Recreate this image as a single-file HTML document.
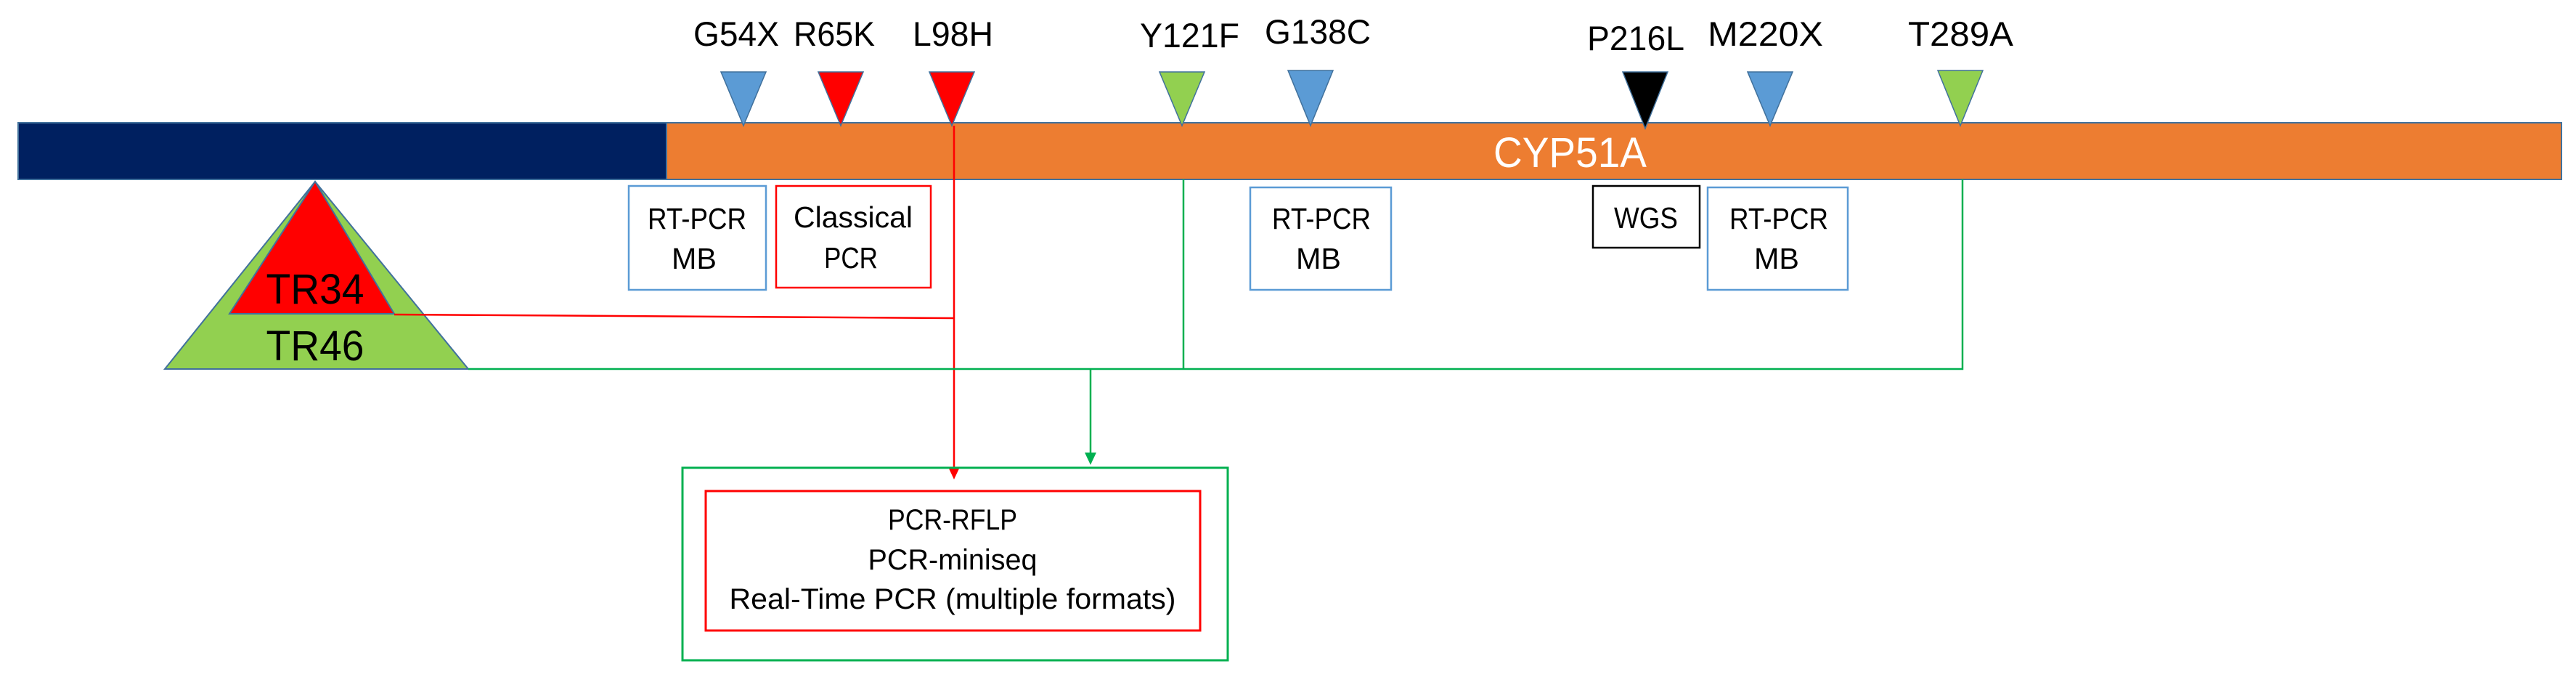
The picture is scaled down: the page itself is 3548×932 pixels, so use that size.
<!DOCTYPE html>
<html><head><meta charset="utf-8"><style>html,body{margin:0;padding:0;background:#fff}svg{display:block}</style></head>
<body>
<svg width="3548" height="932" viewBox="0 0 3548 932" xmlns="http://www.w3.org/2000/svg" font-family="'Liberation Sans', sans-serif">
<rect x="25" y="169" width="893" height="78" fill="#002060" stroke="#41719c" stroke-width="2"/>
<rect x="918" y="169" width="2610" height="78" fill="#ed7d31" stroke="#41719c" stroke-width="2"/>
<text x="2057" y="230" font-size="58" fill="#fff" textLength="211" lengthAdjust="spacingAndGlyphs">CYP51A</text>
<g stroke="#41719c" stroke-width="1.5">
<polygon points="993,99 1055,99 1024,173" fill="#5b9bd5"/>
<polygon points="1127,99 1189,99 1158,173" fill="#ff0000"/>
<polygon points="1280,99 1342,99 1311,173" fill="#ff0000"/>
<polygon points="1597,99 1659,99 1628,173" fill="#92d050"/>
<polygon points="1774,97 1836,97 1805,173" fill="#5b9bd5"/>
<polygon points="2235,99 2297,99 2266,177" fill="#000"/>
<polygon points="2407,99 2469,99 2438,173" fill="#5b9bd5"/>
<polygon points="2669,97 2731,97 2700,173" fill="#92d050"/>
</g>
<g font-size="47" fill="#000">
<text x="955" y="63" textLength="118" lengthAdjust="spacingAndGlyphs">G54X</text>
<text x="1093" y="63" textLength="112" lengthAdjust="spacingAndGlyphs">R65K</text>
<text x="1257" y="63" textLength="111" lengthAdjust="spacingAndGlyphs">L98H</text>
<text x="1570" y="65" textLength="137" lengthAdjust="spacingAndGlyphs">Y121F</text>
<text x="1742" y="60" textLength="146" lengthAdjust="spacingAndGlyphs">G138C</text>
<text x="2186" y="69" textLength="134" lengthAdjust="spacingAndGlyphs">P216L</text>
<text x="2352" y="63" textLength="159" lengthAdjust="spacingAndGlyphs">M220X</text>
<text x="2628" y="63" textLength="145" lengthAdjust="spacingAndGlyphs">T289A</text>
</g>
<g fill="#fff" stroke-width="2.5">
<rect x="866" y="256" width="189" height="143" stroke="#5b9bd5"/>
<rect x="1069" y="256" width="213" height="140" stroke="#ff0000"/>
<rect x="1722" y="258" width="194" height="141" stroke="#5b9bd5"/>
<rect x="2194" y="256" width="147" height="85" stroke="#000"/>
<rect x="2352" y="258" width="193" height="141" stroke="#5b9bd5"/>
</g>
<g font-size="41" fill="#000" text-anchor="middle">
<text x="960" y="315" textLength="136" lengthAdjust="spacingAndGlyphs">RT-PCR</text>
<text x="956" y="370" textLength="62" lengthAdjust="spacingAndGlyphs">MB</text>
<text x="1175" y="313" textLength="164" lengthAdjust="spacingAndGlyphs">Classical</text>
<text x="1172" y="369" textLength="74" lengthAdjust="spacingAndGlyphs">PCR</text>
<text x="1820" y="315" textLength="136" lengthAdjust="spacingAndGlyphs">RT-PCR</text>
<text x="1816" y="370" textLength="62" lengthAdjust="spacingAndGlyphs">MB</text>
<text x="2267" y="314" textLength="88" lengthAdjust="spacingAndGlyphs">WGS</text>
<text x="2450" y="315" textLength="136" lengthAdjust="spacingAndGlyphs">RT-PCR</text>
<text x="2447" y="370" textLength="62" lengthAdjust="spacingAndGlyphs">MB</text>
</g>
<polygon points="434,250 645,508 227,508" fill="#92d050" stroke="#41719c" stroke-width="2"/>
<polygon points="434,250 543,432 316,432" fill="#ff0000" stroke="#41719c" stroke-width="2"/>
<text x="434" y="418" font-size="58" text-anchor="middle" textLength="135" lengthAdjust="spacingAndGlyphs">TR34</text>
<text x="434" y="496" font-size="58" text-anchor="middle" textLength="135" lengthAdjust="spacingAndGlyphs">TR46</text>
<polyline points="543,433 1314,438" fill="none" stroke="#ff0000" stroke-width="2.5"/>
<line x1="1314" y1="173" x2="1314" y2="645" stroke="#ff0000" stroke-width="2.5"/>
<polygon points="1306,643 1322,643 1314,660" fill="#ff0000"/>
<polyline points="645,508 2703,508 2703,247" fill="none" stroke="#00b050" stroke-width="2.5"/>
<line x1="1630" y1="247" x2="1630" y2="508" stroke="#00b050" stroke-width="2.5"/>
<line x1="1502" y1="508" x2="1502" y2="625" stroke="#00b050" stroke-width="2.5"/>
<polygon points="1494,623 1510,623 1502,640" fill="#00b050"/>
<rect x="940" y="644" width="751" height="265" fill="none" stroke="#00b050" stroke-width="3"/>
<rect x="972" y="676" width="681" height="192" fill="none" stroke="#ff0000" stroke-width="3"/>
<g font-size="40" fill="#000" text-anchor="middle">
<text x="1312" y="729" textLength="178" lengthAdjust="spacingAndGlyphs">PCR-RFLP</text>
<text x="1312" y="784" textLength="233" lengthAdjust="spacingAndGlyphs">PCR-miniseq</text>
<text x="1312" y="838" textLength="615" lengthAdjust="spacingAndGlyphs">Real-Time PCR (multiple formats)</text>
</g>
</svg>
</body></html>
